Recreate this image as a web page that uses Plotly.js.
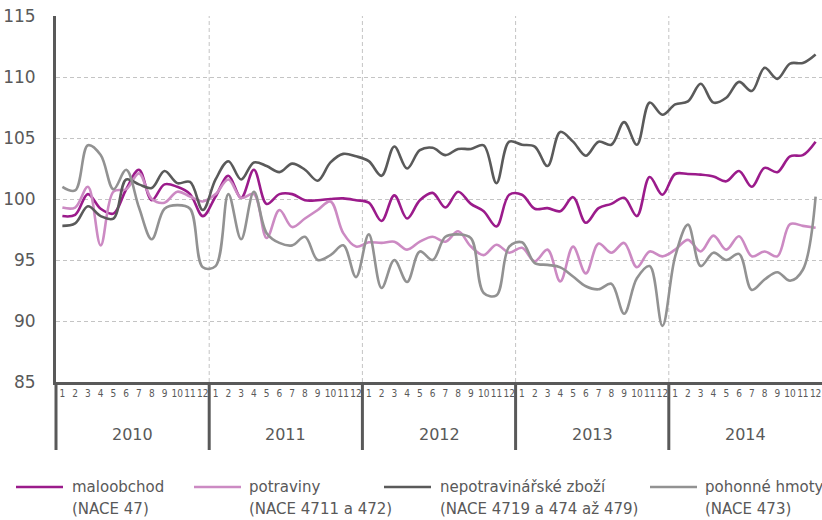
<!DOCTYPE html>
<html>
<head>
<meta charset="utf-8">
<script src="https://cdn.plot.ly/plotly-3.0.1.min.js"></script>
<style>
  html, body { margin: 0; padding: 0; background: #fff; }
  #chart { width: 822px; height: 520px; }
</style>
</head>
<body>
<div id="chart"></div>
<script>
// ---- data ----
const years = ['2010', '2011', '2012', '2013', '2014'];
const months = ['1','2','3','4','5','6','7','8','9','10','11','12'];

const maloobchod = [
  98.6, 98.7, 100.4, 99.2, 98.8, 100.8, 102.4, 99.9, 101.2, 101.0, 100.4, 98.6,
  100.2, 101.9, 100.1, 102.4, 99.6, 100.4, 100.4, 99.9, 99.9, 100.0, 100.05, 99.9,
  99.7, 98.2, 100.3, 98.4, 99.9, 100.5, 99.3, 100.6, 99.6, 99.0, 97.75, 100.35,
  100.35, 99.2, 99.25, 99.0, 100.15, 98.05, 99.25, 99.6, 100.1, 98.6, 101.8, 100.35,
  102.05, 102.05, 102.0, 101.85, 101.45, 102.3, 101.0, 102.55, 102.2, 103.5, 103.6, 104.7
];
const potraviny = [
  99.3, 99.3, 101.0, 96.2, 100.6, 100.8, 102.1, 100.0, 99.7, 100.6, 100.2, 99.8,
  100.4, 101.6, 100.1, 100.4, 96.8, 99.1, 97.7, 98.4, 99.1, 99.8, 97.2, 96.1,
  96.45, 96.4, 96.5, 95.85, 96.5, 96.9, 96.5, 97.35, 96.1, 95.4, 96.25, 95.6,
  96.0, 94.9, 95.85, 93.25, 96.1, 93.9, 96.35, 95.6, 96.4, 94.4, 95.7, 95.3,
  95.85, 96.65, 95.7, 97.0, 95.85, 96.95, 95.3, 95.7, 95.3, 97.95, 97.8, 97.65
];
const nepotravinarske = [
  97.8, 98.0, 99.4, 98.6, 98.4, 101.6, 101.2, 100.9, 102.3, 101.3, 101.4, 99.1,
  101.6, 103.1, 101.6, 103.0, 102.7, 102.2, 102.9, 102.4, 101.5, 103.0, 103.7, 103.5,
  103.1, 101.9, 104.3, 102.5, 104.0, 104.2, 103.6, 104.1, 104.1, 104.4, 101.3, 104.7,
  104.45, 104.3, 102.7, 105.5, 104.7, 103.55, 104.7, 104.45, 106.3, 104.45, 107.9, 106.9,
  107.75, 108.0, 109.45, 107.9, 108.3, 109.6, 108.85, 110.75, 109.85, 111.1, 111.15, 111.85
];
const pohonneHmoty = [
  101.0, 100.7, 104.4, 103.6, 100.8, 102.4, 99.3, 96.7, 99.2, 99.5, 99.2, 94.4,
  94.5, 100.4, 96.7, 100.6, 97.2, 96.4, 96.2, 96.9, 95.0, 95.4, 96.2, 93.6,
  97.1, 92.7, 95.0, 93.2, 95.7, 95.0, 96.9, 97.1, 96.8, 92.3, 92.1, 96.1,
  96.45, 94.75, 94.6, 94.4, 93.65, 92.85, 92.6, 93.05, 90.6, 93.5, 94.5, 89.6,
  95.3, 97.9, 94.5, 95.6, 95.0, 95.5, 92.55, 93.4, 94.0, 93.3, 94.2, 100.2
];

const seriesNames = ['maloobchod', 'potraviny', 'nepotravinářské zboží', 'pohonné hmoty'];
const seriesCodes = ['(NACE 47)', '(NACE 4711 a 472)', '(NACE 4719 a 474 až 479)', '(NACE 473)'];
const seriesValues = [maloobchod, potraviny, nepotravinarske, pohonneHmoty];
const seriesColors = ['#9b1b8b', '#cc8ac3', '#5a5a5a', '#929292'];

const yTicks = [85, 90, 95, 100, 105, 110, 115];

// ---- build ----
const nMonths = years.length * months.length;
const xIdx = Array.from({length: nMonths}, (_, i) => i + 1);
const tickText = years.flatMap(() => months);

const FONT = 'DejaVu Sans, sans-serif';
const FONT_C = 'DejaVu Sans Condensed, DejaVu Sans, sans-serif';
const TXT = '#595959';

const traces = seriesValues.map((vals, k) => ({
  type: 'scatter',
  mode: 'lines',
  x: xIdx,
  y: vals,
  name: seriesNames[k] + ' ' + seriesCodes[k],
  line: {color: seriesColors[k], width: 2.6, shape: 'spline', smoothing: 1},
  hoverinfo: 'skip',
  showlegend: false
}));

const L = 56, W = 766, T = 16, H = 366;
const px2paperX = px => (px - L) / W;
const px2paperY = py => (T + H - py) / H;

const shapes = [];
// vertical dashed gridlines at year boundaries
for (let k = 1; k < years.length; k++) {
  shapes.push({type: 'line', xref: 'paper', yref: 'paper', x0: k / years.length, x1: k / years.length,
    y0: 0, y1: 1, layer: 'below', line: {color: '#c4c4c4', width: 1, dash: '4px,3px'}});
}
// year separators below the axis
for (let k = 0; k < years.length; k++) {
  shapes.push({type: 'line', xref: 'paper', yref: 'paper', x0: k / years.length, x1: k / years.length,
    y0: 0, y1: px2paperY(450), line: {color: '#595959', width: 3}});
}

const annotations = [];
years.forEach((yr, k) => {
  annotations.push({xref: 'x', yref: 'paper', x: k * 12 + 6.5, y: px2paperY(434),
    text: yr, showarrow: false, xanchor: 'center', yanchor: 'middle',
    font: {family: FONT, size: 16, color: TXT}});
});

// manual legend
const legLineX = [16, 194, 384, 650];
const legTextX = [70, 247, 438, 703];
seriesNames.forEach((nm, k) => {
  shapes.push({type: 'line', xref: 'paper', yref: 'paper',
    x0: px2paperX(legLineX[k]), x1: px2paperX(legLineX[k] + 47),
    y0: px2paperY(487), y1: px2paperY(487),
    line: {color: seriesColors[k], width: 2.6}});
  annotations.push({xref: 'paper', yref: 'paper', x: px2paperX(legTextX[k]), y: px2paperY(487),
    text: nm, showarrow: false, xanchor: 'left', yanchor: 'middle',
    font: {family: FONT, size: 15, color: TXT}});
  annotations.push({xref: 'paper', yref: 'paper', x: px2paperX(legTextX[k]), y: px2paperY(509),
    text: seriesCodes[k], showarrow: false, xanchor: 'left', yanchor: 'middle',
    font: {family: FONT, size: 15, color: TXT}});
});

const layout = {
  width: 822, height: 520,
  margin: {l: L, r: 822 - L - W, t: T, b: 520 - T - H, pad: 0},
  paper_bgcolor: '#ffffff', plot_bgcolor: '#ffffff',
  showlegend: false,
  xaxis: {
    range: [0.5, nMonths + 0.5],
    tickmode: 'array', tickvals: xIdx, ticktext: tickText,
    tickfont: {family: FONT_C, size: 10, color: TXT},
    tickangle: 0,
    ticks: '', showgrid: false, zeroline: false,
    showline: true, linecolor: '#595959', linewidth: 3,
    fixedrange: true
  },
  yaxis: {
    range: [85, 115],
    tickmode: 'array', tickvals: yTicks,
    tickfont: {family: FONT, size: 17, color: TXT},
    ticks: '', ticklabelstandoff: 14,
    showgrid: true, gridcolor: '#c4c4c4', gridwidth: 1, griddash: '4px,3px',
    zeroline: false,
    showline: true, linecolor: '#595959', linewidth: 3,
    fixedrange: true
  },
  shapes: shapes,
  annotations: annotations
};

Plotly.newPlot('chart', traces, layout, {staticPlot: true, displayModeBar: false});
</script>
</body>
</html>
